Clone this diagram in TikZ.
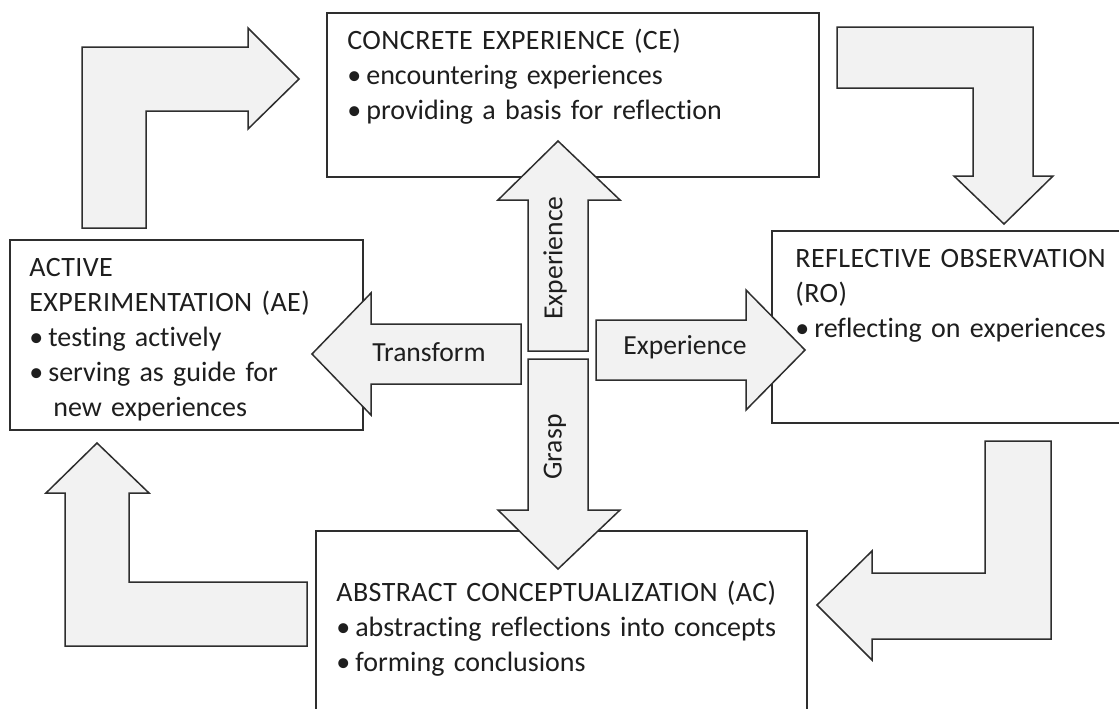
\documentclass[tikz,border=0pt]{standalone}
\usepackage{fontspec}
\setmainfont{Carlito}[Ligatures=CommonOff, WordSpace=0.8]
\definecolor{arrowfill}{HTML}{F2F2F2}
\definecolor{linegray}{HTML}{2E2E2E}
\definecolor{textgray}{HTML}{1E1E1E}
\tikzset{
  box/.style={draw=linegray, line width=0.75pt, fill=white},
  blockarrow/.style={draw=linegray, line width=0.75pt, fill=arrowfill, line join=miter},
  boxtext/.style={anchor=base west, inner sep=0pt, text width=260pt, align=left,
    font=\fontsize{14}{17.5}\selectfont, text=textgray},
  arrowlabel/.style={inner sep=0pt, font=\fontsize{13.8}{16}\selectfont, text=textgray}
}
\newcommand{\bul}{\textbullet\hspace{2.5pt}}
\newcommand{\stagetitle}[1]{{\addfontfeature{LetterSpace=1.5}#1}}

\begin{document}
\begin{tikzpicture}[x=0.5pt,y=-0.5pt]
\clip (0,0) rectangle (1119,708);
\fill[white] (0,0) rectangle (1119,708);

% the four stages
\draw[box] (327,13) rectangle (819,177);
\draw[box] (10,240) rectangle (363,430);
\draw[box] (772,231) rectangle (1135,423);
\draw[box] (316,531) rectangle (807,725);

\node[boxtext] (ce) at (347,49) {\stagetitle{CONCRETE EXPERIENCE (CE)}\\
  \bul encountering experiences\\
  \bul providing a basis for reflection};
\node[boxtext] (ae) at (29,276) {\stagetitle{ACTIVE}\\
  \stagetitle{EXPERIMENTATION (AE)}\\
  \bul testing actively\\
  \bul serving as guide for\\
  \hspace*{12pt}new experiences};
\node[boxtext] (ro) at (795,267) {\stagetitle{REFLECTIVE OBSERVATION}\\
  \stagetitle{(RO)}\\
  \bul reflecting on experiences};
\node[boxtext] (ac) at (336,601) {\stagetitle{ABSTRACT CONCEPTUALIZATION (AC)}\\
  \bul abstracting reflections into concepts\\
  \bul forming conclusions};

% bent arrows round the cycle
\draw[blockarrow] (82,228) -- (82,47) -- (248,47) -- (248,28) -- (299,79)
  -- (248,129) -- (248,111) -- (146,111) -- (146,228) -- cycle;
\draw[blockarrow] (837,27) -- (1033,27) -- (1033,176) -- (1053,176) -- (1004,224)
  -- (954,176) -- (973,176) -- (973,88) -- (837,88) -- cycle;
\draw[blockarrow] (985,441) -- (1051,441) -- (1051,639) -- (872,639) -- (872,660)
  -- (817,605) -- (872,551) -- (872,573) -- (985,573) -- cycle;
\draw[blockarrow] (307,646) -- (65,646) -- (65,493) -- (46,493) -- (97,443)
  -- (149,493) -- (129,493) -- (129,582) -- (307,582) -- cycle;

% arrows in the middle
\draw[blockarrow] (558,141) -- (620,200) -- (588,200) -- (588,351) -- (528,351)
  -- (528,200) -- (498,200) -- cycle;
\draw[blockarrow] (528,359) -- (588,359) -- (588,510) -- (620,510) -- (558,569)
  -- (498,510) -- (528,510) -- cycle;
\draw[blockarrow] (312,354) -- (371,293) -- (371,324) -- (521,324) -- (521,384)
  -- (371,384) -- (371,415) -- cycle;
\draw[blockarrow] (596,320) -- (746,320) -- (746,290) -- (805,350) -- (746,410)
  -- (746,380) -- (596,380) -- cycle;

\node[arrowlabel, rotate=90] (experienceup) at (555,258) {Experience};
\node[arrowlabel, rotate=90] (grasp) at (555,447) {Grasp};
\node[arrowlabel] (transform) at (429,352) {Transform};
\node[arrowlabel] (experienceright) at (685,347) {Experience};
\end{tikzpicture}
\end{document}
